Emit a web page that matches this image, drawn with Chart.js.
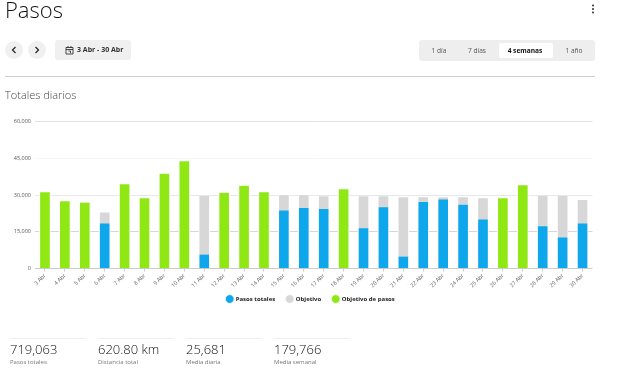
<!DOCTYPE html>
<html lang="es">
<head>
<meta charset="utf-8">
<title>Pasos</title>
<script src="https://cdn.jsdelivr.net/npm/chart.js@4"></script>
<style>
    html, body { margin: 0; padding: 0; background: #fff; overflow: hidden; }
    body { width: 621px; height: 371px; position: relative; font-family: "Open Sans", sans-serif; color: #222; }
    .abs { position: absolute; white-space: nowrap; will-change: transform; }
    #titulo { left: 5px; top: -8px; font-size: 22px; font-weight: 300; line-height: 34px; color: #111; }
    .redondo { width: 18px; height: 18px; top: 41px; border-radius: 50%; background: #f0f0f0; }
    .redondo svg, #fecha svg { position: absolute; }
    #fecha { left: 55px; top: 40px; width: 76px; height: 20px; border-radius: 3px; background: #f0f0f0; }
    #fecha span { position: absolute; left: 22px; top: 0; font-size: 7px; font-weight: 700; line-height: 20px; color: #333; }
    #rango { left: 419px; top: 40px; width: 176px; height: 21px; border-radius: 3px; background: #eeeeee; }
    #activo { left: 499px; top: 43px; width: 54px; height: 15px; border-radius: 2px; background: #fff; }
    .opcion { top: 43px; font-size: 6.6px; line-height: 15px; color: #555; transform: translateX(-50%); }
    #linea { left: 5px; top: 76px; width: 590px; height: 1px; background: #cfcfcf; }
    #subtitulo { left: 5px; top: 87px; font-size: 11px; font-weight: 300; line-height: 16px; color: #444; }
    #grafico { position: absolute; left: 0; top: 110px; }
    .stat { top: 338px; width: 76px; border-top: 1px solid #eeeeee; }
    .stat b { display: block; font-size: 13px; font-weight: 300; line-height: 17px; margin-top: 2px; color: #111; }
    .stat i { display: block; font-size: 6px; font-style: normal; line-height: 8px; color: #777; }
</style>
</head>
<body>
<div class="abs" id="titulo">Pasos</div>
<svg class="abs" style="left:590px;top:4px" width="6" height="10"><circle cx="3" cy="1.5" r="1" fill="#333"/><circle cx="3" cy="5" r="1" fill="#333"/><circle cx="3" cy="8.5" r="1" fill="#333"/></svg>

<div class="abs redondo" style="left:5px"><svg style="left:6px;top:5px" width="6" height="8"><path d="M4.5 1 L1.5 4 L4.5 7" fill="none" stroke="#222" stroke-width="1.2"/></svg></div>
<div class="abs redondo" style="left:28px"><svg style="left:6px;top:5px" width="6" height="8"><path d="M1.5 1 L4.5 4 L1.5 7" fill="none" stroke="#222" stroke-width="1.2"/></svg></div>
<div class="abs" id="fecha">
    <svg style="left:10px;top:5px" width="9" height="10"><path d="M1 2.5 H8 V9 H1 Z M1 4.5 H8 M3 1 V3 M6 1 V3 M3.5 6 H5.5 V8" fill="none" stroke="#333" stroke-width="0.9"/></svg>
    <span>3 Abr - 30 Abr</span>
</div>

<div class="abs" id="rango"></div>
<div class="abs" id="activo"></div>
<div class="abs opcion" style="left:439px">1 día</div>
<div class="abs opcion" style="left:477px">7 días</div>
<div class="abs opcion" style="left:525px;font-weight:700;color:#111">4 semanas</div>
<div class="abs opcion" style="left:574px">1 año</div>

<div class="abs" id="linea"></div>
<div class="abs" id="subtitulo">Totales diarios</div>

<canvas id="grafico" width="621" height="212"></canvas>

<div class="abs stat" style="left:10px"><b>719,063</b><i>Pasos totales</i></div>
<div class="abs stat" style="left:98px"><b>620.80 km</b><i>Distancia total</i></div>
<div class="abs stat" style="left:186px"><b>25,681</b><i>Media diaria</i></div>
<div class="abs stat" style="left:274px"><b>179,766</b><i>Media semanal</i></div>

<script>
// Datos
const dias = ["3 Abr", "4 Abr", "5 Abr", "6 Abr", "7 Abr", "8 Abr", "9 Abr", "10 Abr", "11 Abr", "12 Abr",
    "13 Abr", "14 Abr", "15 Abr", "16 Abr", "17 Abr", "18 Abr", "19 Abr", "20 Abr", "21 Abr", "22 Abr",
    "23 Abr", "24 Abr", "25 Abr", "26 Abr", "27 Abr", "28 Abr", "29 Abr", "30 Abr"];
const pasosTotales = [null, null, null, 18400, null, null, null, null, 5700, null,
    null, null, 23700, 24700, 24300, null, 16400, 24950, 4900, 27100,
    28200, 26050, 20050, null, null, 17200, 12700, 18400];
const objetivo = [null, null, null, 22900, null, null, null, null, 29600, null,
    null, null, 29860, 29860, 29450, null, 29450, 29450, 29050, 29050,
    29050, 29050, 28640, null, null, 29600, 29600, 27950];
const objetivoPasos = [31090, 27400, 26900, null, 34360, 28640, 38700, 43770, null, 30950,
    33800, 31100, null, null, null, 32300, null, null, null, null,
    null, null, null, 28640, 33950, null, null, null];
const ticksY = [0, 15000, 30000, 45000, 60000];

// Cada linea de la rejilla se ve con un gris distinto en la referencia
const coloresRejilla = { 0: "#cccccc", 15000: "#d6d6d6", 30000: "#e8e8e8", 45000: "#f6f6f6", 60000: "#e2e2e2" };

function crearSerie(label, data, color, orden) {
    return {
        label: label,
        data: data,
        backgroundColor: color,
        borderColor: "#ffffff",
        borderWidth: { left: 1, right: 1, top: 0, bottom: 0 },
        borderSkipped: false,
        barThickness: 11,
        order: orden
    };
}

// La leyenda va un poco mas a la derecha y mas arriba de lo que deja el layout
const moverLeyenda = {
    id: "moverLeyenda",
    afterLayout(chart) {
        chart.legend.left += 14.5;
        chart.legend.right += 14.5;
        chart.legend.top -= 6;
        chart.legend.bottom -= 6;
    }
};

new Chart(document.getElementById("grafico"), {
    type: "bar",
    plugins: [moverLeyenda],
    data: {
        labels: dias,
        datasets: [
            crearSerie("Pasos totales", pasosTotales, "#0ea7ec", 1),
            crearSerie("Objetivo", objetivo, "#d7d7d7", 2),
            crearSerie("Objetivo de pasos", objetivoPasos, "#8fe814", 1)
        ]
    },
    options: {
        responsive: false,
        animation: false,
        layout: { padding: { left: 0, right: 28.5, top: 11.5, bottom: 4 } },
        scales: {
            x: {
                stacked: true,
                offset: true,
                afterFit: (escala) => { escala.height = 22; },
                border: { display: false },
                grid: { offset: false, drawOnChartArea: false, tickLength: 3, color: "#cccccc" },
                ticks: { autoSkip: false, minRotation: 45, maxRotation: 45, padding: 1, color: "#666666", font: { family: "Open Sans", size: 5.5 } }
            },
            y: {
                stacked: false,
                min: 0,
                max: 60000,
                afterFit: (escala) => { escala.width = 35; },
                afterBuildTicks: (escala) => { escala.ticks = ticksY.map((v) => ({ value: v })); },
                border: { display: false },
                grid: {
                    drawTicks: false,
                    color: (ctx) => coloresRejilla[ctx.tick.value]
                },
                ticks: {
                    padding: 4,
                    color: "#555555",
                    font: { family: "Open Sans", size: 5.5 },
                    callback: (valor) => valor.toLocaleString("en-US")
                }
            }
        },
        plugins: {
            tooltip: { enabled: false },
            legend: {
                position: "bottom",
                labels: {
                    usePointStyle: true,
                    pointStyle: "circle",
                    boxWidth: 6,
                    boxHeight: 6,
                    padding: 11.5,
                    color: "#222222",
                    font: { family: "Open Sans", size: 6, weight: "700" },
                    sort: (a, b) => a.datasetIndex - b.datasetIndex
                }
            }
        }
    }
});
</script>
</body>
</html>
